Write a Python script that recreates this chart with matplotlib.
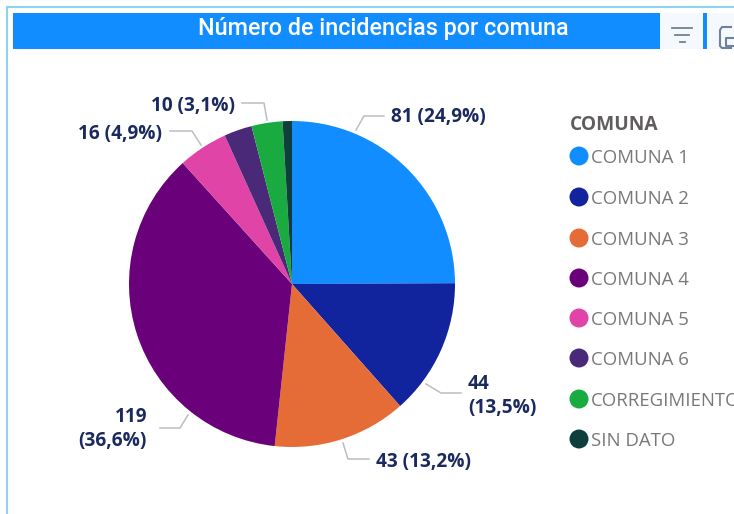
import matplotlib
matplotlib.use('Agg')
import matplotlib.pyplot as plt
from matplotlib.patches import Circle, Rectangle

categorias = ['COMUNA 1', 'COMUNA 2', 'COMUNA 3', 'COMUNA 4', 'COMUNA 5', 'COMUNA 6', 'CORREGIMIENTO', 'SIN DATO']
valores = [81, 44, 43, 119, 16, 9, 10, 3]
cores = ['#118DFF', '#12239E', '#E66C37', '#6B007B', '#E044A7', '#4A2A78', '#1AAB40', '#0F3F3C']
titulo = 'Número de incidencias por comuna'
titulo_legenda = 'COMUNA'

# rotulos: texto, posicao do texto, pontos da linha guia (em pixels da imagem)
rotulos = [
    ('81 (24,9%)', 391, 117, 'left', [(356, 130), (364, 116), (384, 116)]),
    ('44\n(13,5%)', 468, 396, 'left', [(426, 384), (441, 393), (461, 393)]),
    ('43 (13,2%)', 376, 462, 'left', [(343, 443), (348, 459), (369, 459)]),
    ('119\n(36,6%)', 147, 429, 'right', [(188, 415), (180, 428), (160, 428)]),
    ('16 (4,9%)', 162, 134, 'right', [(201, 145), (192, 131), (170, 131)]),
    ('10 (3,1%)', 235, 106, 'right', [(267, 120), (264, 103), (242, 103)]),
]
legenda_y = [156, 197, 238, 278, 318, 358, 399, 439]

plt.rcParams['font.family'] = ['Open Sans', 'DejaVu Sans']

ALTURA = 514
def py(y):
    return ALTURA - y

fig = plt.figure(figsize=(7.34, 5.14), dpi=100)
ax = fig.add_axes([0, 0, 1, 1])

# PIZZA
ax.pie(valores, colors=cores, startangle=90, counterclock=False, center=(292, py(284)), radius=163,
       wedgeprops={'linewidth': 0})
ax.set_xlim(0, 734)
ax.set_ylim(0, ALTURA)
ax.set_aspect('equal')
ax.axis('off')

# moldura e barra do titulo
ax.plot([7, 7], [py(514), py(7)], color='#8FD3EE', lw=1.5)
ax.plot([7, 734], [py(7), py(7)], color='#8FD3EE', lw=1.5)
ax.add_patch(Rectangle((13, py(49)), 647, 36, color='#118DFF', lw=0))
ax.add_patch(Rectangle((660, py(49)), 43, 36, color='#F5F9FE', lw=0))
ax.add_patch(Rectangle((703, py(49)), 4, 36, color='#118DFF', lw=0))
ax.add_patch(Rectangle((707, py(49)), 27, 36, color='#F5F9FE', lw=0))
ax.text(383, py(28), titulo, color='white', fontsize=16.8, fontweight='medium', family=['Roboto', 'DejaVu Sans'],
        ha='center', va='center')

# icones
for y, x0, x1 in [(28, 672, 692), (35, 675, 689), (42, 680, 685)]:
    ax.plot([x0, x1], [py(y), py(y)], color='#6F8299', lw=1.3)
ax.plot([731, 722, 720, 720, 722, 731], [py(27), py(27), py(30), py(46), py(48), py(48)], color='#6F8299', lw=1.5)
ax.plot([734, 726, 726, 734], [py(38), py(38), py(46), py(46)], color='#6F8299', lw=1.5)

# rotulos da pizza
for texto, x, y, alinhamento, linha in rotulos:
    ax.plot([p[0] for p in linha], [py(p[1]) for p in linha], color='#BDBDBD', lw=1.1)
    ax.text(x, py(y), texto, color='#1B2A5E', fontsize=13.7, fontweight='bold', ha=alinhamento, va='center',
            linespacing=1.25, multialignment=alinhamento)

# legenda
ax.text(570, py(125), titulo_legenda, color='#605E5C', fontsize=13.8, fontweight='bold', ha='left', va='center')
for nome, cor, y in zip(categorias, cores, legenda_y):
    ax.add_patch(Circle((579, py(y)), 9.5, color=cor, lw=0))
    ax.text(591, py(y + 2), nome, color='#7A7876', fontsize=13.4, ha='left', va='center')

fig.savefig('out.png', dpi=100)
plt.close(fig)
